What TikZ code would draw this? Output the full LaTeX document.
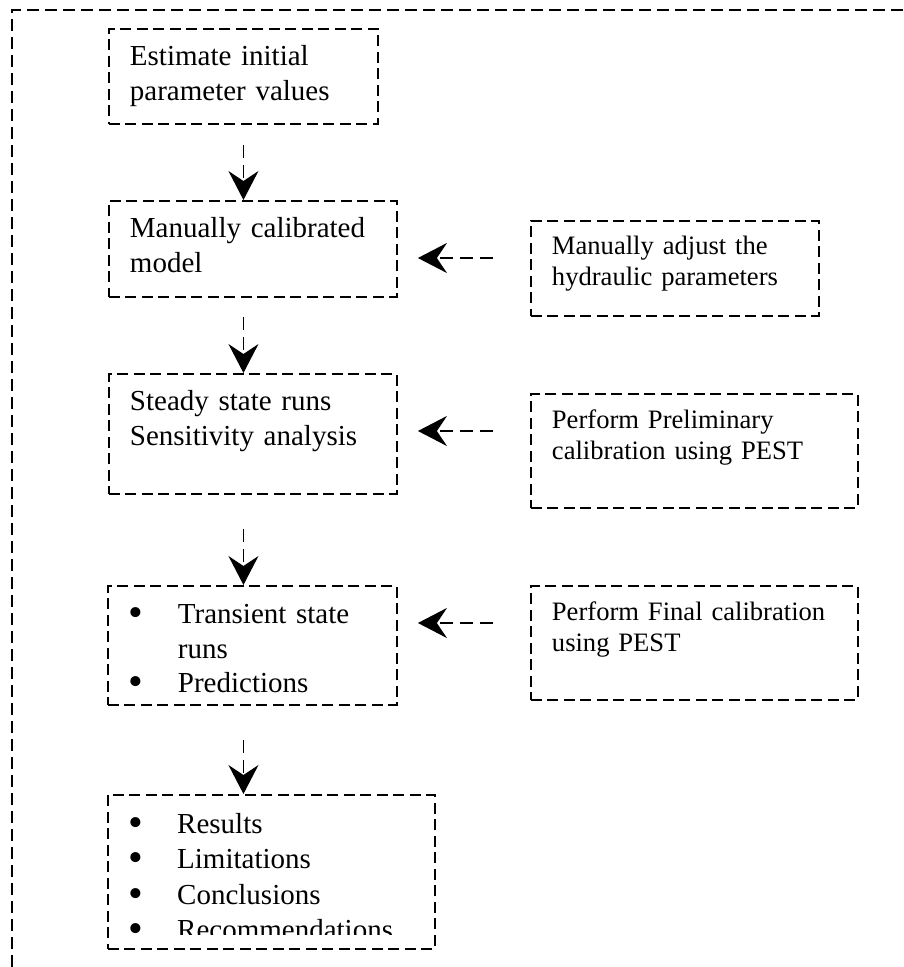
\documentclass[tikz,border=0pt]{standalone}
\usepackage{fontspec}
\setmainfont{Liberation Serif}
\usetikzlibrary{arrows.meta}
\newcommand{\bulletline}[1]{\makebox[49pt][l]{\smash{\raisebox{-3pt}{\scalebox{1.45}{\textbullet}}}}#1}

\begin{document}
\begin{tikzpicture}[x=1pt,y=-1pt,>={Stealth[length=29pt,width=30pt,inset=10pt]},
	boxtext/.style n args={3}{anchor=north west,inner xsep=21pt,inner ysep=0pt,align=left,text width=#1,text height=#2,text depth=#3},
	box/.style n args={3}{boxtext={#1}{#2}{#3},draw,line width=1.9pt,dash pattern=on 11pt off 5.5pt},
	side/.style={font=\fontsize{26.6}{30.8}\selectfont},
	flow/.style={->,line width=1.3pt,dash pattern=on 13pt off 7pt}]
		\tikzstyle{every node}=[font=\fontsize{29}{34.5}\selectfont];
		\useasboundingbox (0,0) rectangle (904,967);
		\draw[line width=1.9pt,dash pattern=on 12pt off 6pt] (12,967) -- (12,10) -- (904,10);

		% main column
		\node[box={227pt}{37pt}{58pt}] (init) at (108,28) {Estimate initial\\parameter values};
		\node[box={246pt}{37pt}{59pt}] (calib) at (108,200) {Manually calibrated\\model};
		\node[box={246pt}{37pt}{83pt}] (steady) at (108,373) {Steady state runs\\Sensitivity analysis};
		\node[box={247pt}{38pt}{81pt}] (trans) at (107,585) {\bulletline{Transient state}\\\hspace*{49pt}runs\\\bulletline{Predictions}};
		\node[box={285pt}{39pt}{115pt}] (results) at (107,794) {};
		\begin{scope}
			\clip (results.north west) rectangle ([yshift=15pt]results.south east);
			\node[boxtext={285pt}{39pt}{115pt},font=\fontsize{29}{35.5}\selectfont] (outcomes) at (107,794) {\bulletline{Results}\\\bulletline{Limitations}\\\bulletline{Conclusions}\\\bulletline{Recommendations}};
		\end{scope}

		% calibration steps
		\node[box={246pt}{34pt}{61pt},side] (manual) at (530,220) {Manually adjust the\\hydraulic parameters};
		\node[box={285pt}{35pt}{79pt},side] (prelim) at (530,393) {Perform Preliminary\\calibration using PEST};
		\node[box={285pt}{35pt}{79pt},side] (final) at (530,585) {Perform Final calibration\\using PEST};

		\foreach \a/\b/\gap in {init/calib/20pt,calib/steady/19pt,steady/trans/34pt,trans/results/34pt}
			\draw[flow,shorten <=\gap] (\a.south -| init.south) -- (\b.north -| init.south);

		\coordinate (tail1) at (493,258);
		\coordinate (tail2) at (493,431);
		\coordinate (tail3) at (493,623);
		\foreach \t/\b in {tail1/calib,tail2/steady,tail3/trans}
			\draw[flow,shorten >=20pt] (\t) -- (\t -| \b.east);
	\end{tikzpicture}
\end{document}
